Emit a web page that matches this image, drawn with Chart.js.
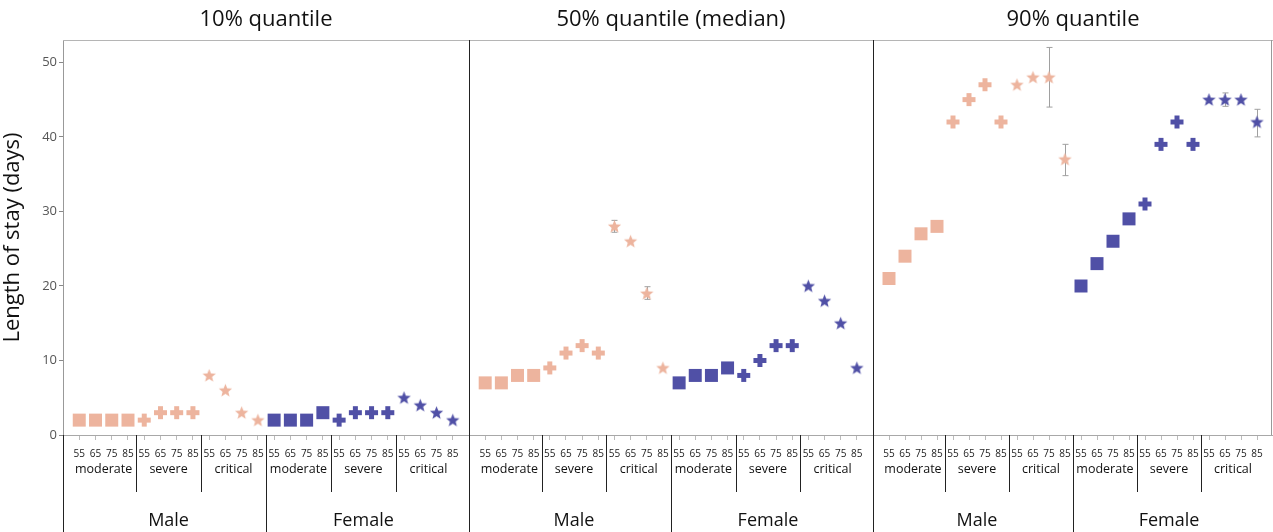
<!DOCTYPE html>
<html>
<head>
<meta charset="utf-8">
<script src="https://cdn.jsdelivr.net/npm/chart.js@4.4.0/dist/chart.umd.min.js"></script>
<style>
  body { margin: 0; background: #fff; }
  #wrap { position: relative; width: 1273px; height: 532px; overflow: hidden; }
  #wrap canvas { position: absolute; top: 0; }
</style>
</head>
<body>
<div id="wrap">
  <canvas id="p10" width="469" height="532" style="left:0"></canvas>
  <canvas id="p50" width="404" height="532" style="left:469px"></canvas>
  <canvas id="p90" width="400" height="532" style="left:873px"></canvas>
</div>
<script>
// --- Data ---
const ages = ['55', '65', '75', '85'];
const severities = ['moderate', 'severe', 'critical'];
const sexes = ['Male', 'Female'];
const panelTitles = ['10% quantile', '50% quantile (median)', '90% quantile'];
const yTicks = [0, 10, 20, 30, 40, 50];

// order: Male(moderate 55..85, severe, critical), Female(...)
const q10 = [2, 2, 2, 2,  2, 3, 3, 3,  8, 6, 3, 2,   2, 2, 2, 3,  2, 3, 3, 3,  5, 4, 3, 2];
const q50 = [7, 7, 8, 8,  9, 11, 12, 11,  28, 26, 19, 9,   7, 8, 8, 9,  8, 10, 12, 12,  20, 18, 15, 9];
const q90 = [21, 24, 27, 28,  42, 45, 47, 42,  47, 48, 48, 37,   20, 23, 26, 29,  31, 39, 42, 39,  45, 45, 45, 42];

// error bars: [index, low, high]
const err10 = [];
const err50 = [[8, 27.2, 28.8], [10, 18.2, 19.9]];
const err90 = [[10, 44, 52], [11, 34.8, 39], [21, 44.1, 45.9], [23, 40, 43.7]];

const FONT = "'Open Sans', 'Noto Sans', sans-serif";
const maleColor = '#EDB49E';
const femaleColor = '#5050A6';

// --- Marker shapes ---
function makeShape(kind, color) {
    const c = document.createElement('canvas');
    c.width = 15; c.height = 15;
    const g = c.getContext('2d');
    g.fillStyle = color;
    if (kind === 'square') {
        g.fillRect(1, 1, 13, 13);
    } else if (kind === 'plus') {
        g.fillRect(5, 1, 5, 13);
        g.fillRect(1, 5, 13, 5);
    } else {
        g.beginPath();
        for (let i = 0; i < 10; i++) {
            const r = i % 2 === 0 ? 7 : 3;
            const a = -Math.PI / 2 + i * Math.PI / 5;
            const px = 7.5 + r * Math.cos(a), py = 8 + r * Math.sin(a);
            if (i === 0) g.moveTo(px, py); else g.lineTo(px, py);
        }
        g.closePath();
        g.fill();
    }
    return c;
}
const shapes = [maleColor, femaleColor].map(col =>
    ['square', 'plus', 'star'].map(k => makeShape(k, col)));

const indexes = q10.map((_, i) => i);

// --- Plugins ---
function line(ctx, x1, y1, x2, y2, color) {
    ctx.strokeStyle = color;
    ctx.lineWidth = 1;
    ctx.beginPath();
    ctx.moveTo(x1, y1);
    ctx.lineTo(x2, y2);
    ctx.stroke();
}

const framePlugin = {
    id: 'frame',
    afterDraw(chart, args, opts) {
        const { ctx, chartArea: a, scales: { x } } = chart;
        const H = chart.height;
        ctx.save();
        line(ctx, a.left, a.top + 0.5, a.right, a.top + 0.5, '#b5b5b5');
        const lx = Math.round(a.left) + 0.5;
        line(ctx, lx, opts.first ? a.bottom : a.top, lx, H, '#222');
        if (opts.last) line(ctx, a.right - 1.5, a.top, a.right - 1.5, a.bottom, '#999');
        // severity separators
        [3.5, 7.5, 15.5, 19.5].forEach(v => {
            const px = Math.round(x.getPixelForValue(v)) + 0.5;
            line(ctx, px, a.bottom, px, 492, '#222');
        });
        const sx = Math.round(x.getPixelForValue(11.5)) + 0.5;
        line(ctx, sx, a.bottom, sx, H, '#222');
        // group labels
        ctx.fillStyle = '#111';
        ctx.textAlign = 'center';
        ctx.textBaseline = 'middle';
        ctx.font = '12.5px ' + FONT;
        sexes.forEach((s, si) => {
            severities.forEach((sev, vi) => {
                const c = si * 12 + vi * 4 + 1.5;
                ctx.fillText(sev, x.getPixelForValue(c), 469);
            });
        });
        ctx.font = '18px ' + FONT;
        sexes.forEach((s, si) => {
            ctx.fillText(s, x.getPixelForValue(si * 12 + 5.5), 521);
        });
        ctx.restore();
    }
};

const errorBarPlugin = {
    id: 'errbars',
    beforeDatasetsDraw(chart, args, opts) {
        const { ctx, scales: { x, y } } = chart;
        ctx.save();
        (opts.bars || []).forEach(([i, lo, hi]) => {
            const px = Math.round(x.getPixelForValue(i)) + 0.5;
            const y1 = y.getPixelForValue(lo), y2 = y.getPixelForValue(hi);
            line(ctx, px, y1, px, y2, '#a0a0a0');
            line(ctx, px - 3, y1, px + 3, y1, '#a0a0a0');
            line(ctx, px - 3, y2, px + 3, y2, '#a0a0a0');
        });
        ctx.restore();
    }
};

// --- Charts ---
function makePanel(id, values, title, bars, first, last) {
    const ctx = document.getElementById(id).getContext('2d');
    return new Chart(ctx, {
        type: 'scatter',
        data: {
            datasets: [{
                data: values.map((v, i) => ({ x: i, y: v })),
                pointStyle: indexes.map(i => shapes[Math.floor(i / 12)][Math.floor((i % 12) / 4)]),
                pointRadius: 6,
                showLine: false
            }]
        },
        options: {
            responsive: false,
            animation: false,
            layout: { padding: 0, autoPadding: false },
            plugins: {
                legend: { display: false },
                tooltip: { enabled: false },
                title: {
                    display: true,
                    text: title,
                    fullSize: false,
                    color: '#111',
                    font: { family: FONT, size: 22, weight: 'normal' },
                    padding: { top: 7, bottom: 6.6 }
                },
                frame: { first, last },
                errbars: { bars }
            },
            scales: {
                x: {
                    type: 'linear',
                    min: -1,
                    max: 24,
                    afterBuildTicks: s => { s.ticks = indexes.map(v => ({ value: v })); },
                    afterFit: s => { s.height = 97; s.paddingLeft = 0; s.paddingRight = 0; },
                    grid: { drawOnChartArea: false, tickLength: 5, color: '#bbb' },
                    border: { color: '#a8a8a8' },
                    ticks: {
                        autoSkip: false,
                        maxRotation: 0,
                        padding: 8,
                        color: '#222',
                        font: { family: FONT, size: 10 },
                        callback: v => ages[v % 4]
                    }
                },
                y: {
                    display: first,
                    min: 0,
                    max: 53,
                    afterBuildTicks: s => { s.ticks = yTicks.map(v => ({ value: v })); },
                    afterFit: s => { s.width = first ? 63 : 0; s.paddingTop = 0; s.paddingBottom = 0; },
                    grid: { drawOnChartArea: false, tickLength: 4, color: '#888' },
                    border: { color: '#999' },
                    ticks: {
                        padding: 2,
                        color: '#555',
                        font: { family: FONT, size: 13 }
                    },
                    title: {
                        display: true,
                        text: 'Length of stay (days)',
                        color: '#111',
                        font: { family: FONT, size: 22 },
                        padding: { top: 0, bottom: 2 }
                    }
                }
            }
        },
        plugins: [framePlugin, errorBarPlugin]
    });
}

makePanel('p10', q10, panelTitles[0], err10, true, false);
makePanel('p50', q50, panelTitles[1], err50, false, false);
makePanel('p90', q90, panelTitles[2], err90, false, true);
</script>
</body>
</html>
